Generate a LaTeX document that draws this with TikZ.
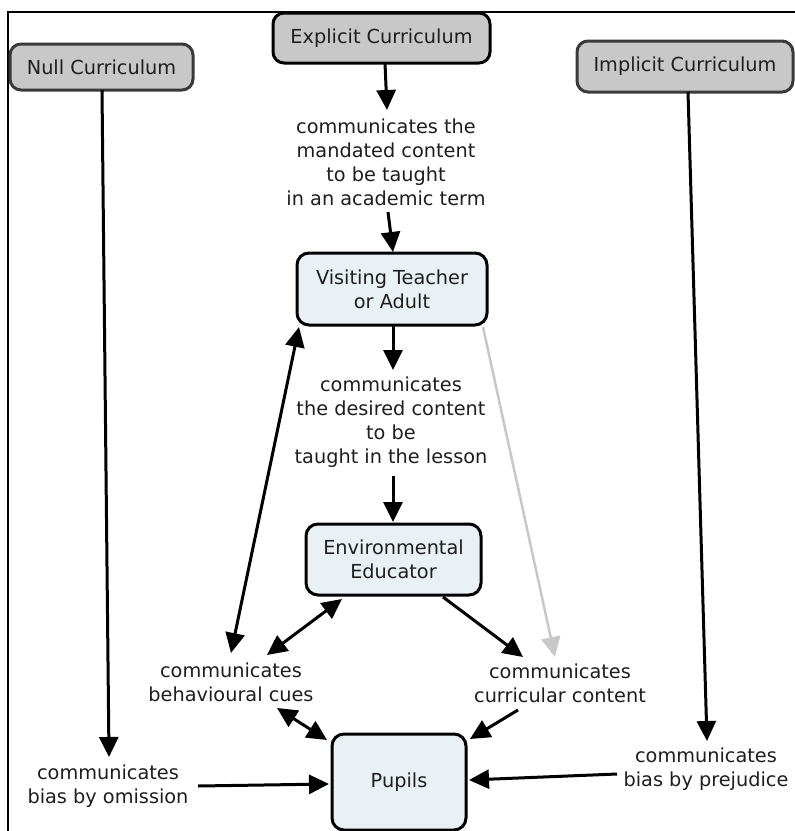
\documentclass[tikz,border=0pt]{standalone}
\usepackage{fontspec}
\setmainfont{DejaVu Sans}
\usetikzlibrary{arrows.meta,calc}
\definecolor{boxgray}{HTML}{C8C8C8}
\definecolor{boxblue}{HTML}{EAF1F5}
\definecolor{edgegray}{HTML}{3A3A3A}
\definecolor{ink}{HTML}{1E1E1E}
\definecolor{faint}{HTML}{C8C8C8}
\tikzset{
  every node/.style={font=\fontsize{19.3}{24}\selectfont, text=ink, align=center, inner sep=0pt},
  curbox/.style={draw=edgegray, fill=boxgray, line width=3pt, rounded corners=11pt},
  rolebox/.style={draw=black, fill=boxblue, line width=3pt, rounded corners=12pt},
  link/.style={line width=3pt, -{Triangle[length=20pt,width=19pt]}},
  both/.style={line width=3pt, {Triangle[length=20pt,width=19pt]}-{Triangle[length=20pt,width=19pt]}},
  faintlink/.style={draw=faint, line width=2.5pt, -{Triangle[length=20pt,width=19pt]}},
}
\begin{document}
\begin{tikzpicture}[x=1pt,y=-1pt]
\useasboundingbox (0,0) rectangle (795,831);
\fill[white] (0,0) rectangle (795,831);

% outer frame (top and left edges)
\draw[line width=2.5pt] (795,12) -- (8,12) -- (8,831);

% curriculum boxes
\node[curbox, minimum width=183pt, minimum height=46pt] (null) at (101.5,67) {Null Curriculum};
\node[curbox, draw=black, minimum width=217pt, minimum height=50pt] (explicit) at (381.5,38) {Explicit Curriculum};
\node[curbox, minimum width=216pt, minimum height=51pt] (implicit) at (685,66.5) {Implicit Curriculum};

% people
\node[rolebox, minimum width=190pt, minimum height=72pt] (visiting) at (392,289) {Visiting Teacher\\ or Adult};
\node[rolebox, minimum width=175pt, minimum height=71pt] (env) at (393.5,559.5) {Environmental\\Educator};
\node[rolebox, minimum width=134pt, minimum height=96pt] (pupils) at (399,782) {Pupils};

% linking phrases
\node (lab1) at (386,162) {communicates the\\mandated content\\to be taught\\in an academic term};
\node (lab2) at (391,422.5) {communicates\\the desired content\\to be\\taught in the lesson};
\node (behav) at (231,682) {communicates\\behavioural cues};
\node (curr) at (560,683.5) {communicates\\curricular content};
\node (omit) at (108,786) {communicates\\bias by omission};
\node (prej) at (706,769) {communicates\\bias by prejudice};

% connectors
\draw[link] ($(explicit)+(3.5,25)$) -- ($(lab1)+(1,-52)$);
\draw[link] ($(lab1)+(2,50)$) -- ($(visiting)+(1,-37)$);
\draw[link] ($(visiting)+(1,36)$) -- ($(lab2)+(2,-52.5)$);
\draw[link] ($(lab2)+(2,53.5)$) -- ($(env)+(-0.5,-37.5)$);
\draw[both] ($(visiting)+(-93,38)$) -- ($(behav)+(0,-29)$);
\draw[both] ($(env)+(-51.5,39.5)$) -- ($(behav)+(36,-27)$);
\draw[link] ($(env)+(49.5,37.5)$) -- ($(curr)+(-37,-26.5)$);
\draw[faintlink] ($(visiting)+(91,38)$) -- ($(curr)+(-5,-26.5)$);
\draw[both] ($(behav)+(46,26)$) -- ($(pupils)+(-72,-42)$);
\draw[link] ($(curr)+(-42,26.5)$) -- ($(pupils)+(71,-43)$);
\draw[link] ($(omit)+(90,0)$) -- ($(pupils)+(-70,2)$);
\draw[link] ($(prej)+(-89,5)$) -- ($(pupils)+(70,-2)$);
\draw[link] ($(null)+(0.5,23)$) -- ($(omit)+(1,-29)$);
\draw[link] ($(implicit)+(3,25.5)$) -- ($(prej)+(1,-28)$);
\end{tikzpicture}
\end{document}
